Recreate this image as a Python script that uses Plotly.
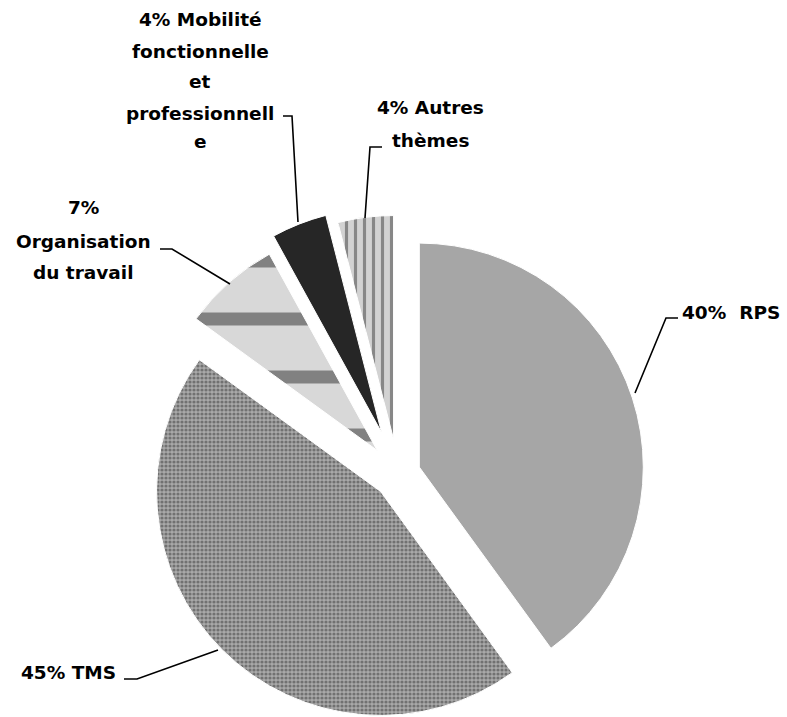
import math
import plotly.graph_objects as go

# ---- data ----
categories = ["RPS", "TMS", "Organisation du travail",
              "Mobilité fonctionnelle et professionnelle", "Autres thèmes"]
values = [40, 45, 7, 4, 4]
pulls = [0.10, 0.11, 0.14, 0.20, 0.155]
label_lines = [
    ["40%\u00a0 RPS"],
    ["45% TMS"],
    ["7%", "Organisation", "du travail"],
    ["4% Mobilité", "fonctionnelle", "et", "professionnell", "e"],
    ["4% Autres", "thèmes"],
]

W, H = 787, 717

# ---- styles ----
fill_colors = ["#a6a6a6", "#9a9a9a", "#cfcfcf", "#262626", "#c4c4c4"]
pat_shape = ["", ".", "-", "", "|"]
pat_fg = ["#a6a6a6", "#3a3a3a", "#2a2a2a", "#262626", "#3c3c3c"]
pat_bg = ["#a6a6a6", "#a9a9a9", "#d8d8d8", "#262626", "#d2d2d2"]
pat_size = [8, 4, 58, 8, 9]
pat_sol = [0.3, 0.5, 0.22, 0.3, 0.35]

# pie geometry (pixels): common centre and radius; each slice drawn as its own
# pie trace (others transparent) with the centre shifted by the slice's pull.
cx0, cy0, r = 398, 474, 224
total = sum(values)
TRANSP = "rgba(0,0,0,0)"

fig = go.Figure()
cum = 0
for i, v in enumerate(values):
    mid = math.radians(360 * (cum + v / 2) / total)
    cum += v
    dx, dy = math.sin(mid), -math.cos(mid)
    cx = cx0 + pulls[i] * r * dx
    cy = cy0 + pulls[i] * r * dy
    dom_x = [max(0, (cx - r) / W), min(1, (cx + r) / W)]
    dom_y = [max(0, 1 - (cy + r) / H), min(1, 1 - (cy - r) / H)]
    show = [j == i for j in range(len(values))]
    fig.add_trace(go.Pie(
        labels=categories, values=values, sort=False, direction="clockwise",
        rotation=0, textinfo="none", hoverinfo="label+percent",
        marker=dict(
            colors=[fill_colors[j] if s else TRANSP for j, s in enumerate(show)],
            pattern=dict(
                shape=[pat_shape[j] if s else "" for j, s in enumerate(show)],
                fgcolor=[pat_fg[j] if s else TRANSP for j, s in enumerate(show)],
                bgcolor=[pat_bg[j] if s else TRANSP for j, s in enumerate(show)],
                size=pat_size, solidity=pat_sol, fillmode="overlay",
            ),
            line=dict(color="white", width=[1 if s else 0 for s in show]),
        ),
        domain=dict(x=dom_x, y=dom_y), showlegend=False,
    ))

# label placement (pixels): per-category centre x and line y's
label_pos = [
    (731, [312]),
    (68, [672]),
    (83, [208, 241, 273]),
    (200, [20, 51, 82, 114, 142]),
    (430, [107, 140]),
]
annotations = []
for lines, (lx, ys) in zip(label_lines, label_pos):
    for txt, ly in zip(lines, ys):
        annotations.append(dict(
            x=lx / W, y=1 - ly / H, xref="paper", yref="paper",
            text="<b>" + txt + "</b>", showarrow=False,
            xanchor="center", yanchor="middle",
            font=dict(family="DejaVu Sans", size=18.5, color="black"),
        ))

leaders = [
    [(678, 318), (666, 318), (635, 393)],
    [(124, 679), (137, 679), (218, 650)],
    [(160, 249), (172, 249), (230, 284)],
    [(283, 116), (292, 116), (298, 222)],
    [(382, 147), (370, 147), (365, 218)],
]
shapes = []
for pts in leaders:
    path = "M " + " L ".join(f"{x / W:.5f},{1 - y / H:.5f}" for x, y in pts)
    shapes.append(dict(type="path", path=path, xref="paper", yref="paper",
                       line=dict(color="black", width=1.6)))

fig.update_layout(
    width=W, height=H, margin=dict(l=0, r=0, t=0, b=0),
    paper_bgcolor="white", plot_bgcolor="white",
    annotations=annotations, shapes=shapes,
)

fig.write_html("out.html",
               config={"displayModeBar": False},
               post_script="document.body.style.margin='0';"
                           "document.body.style.overflow='hidden';")
